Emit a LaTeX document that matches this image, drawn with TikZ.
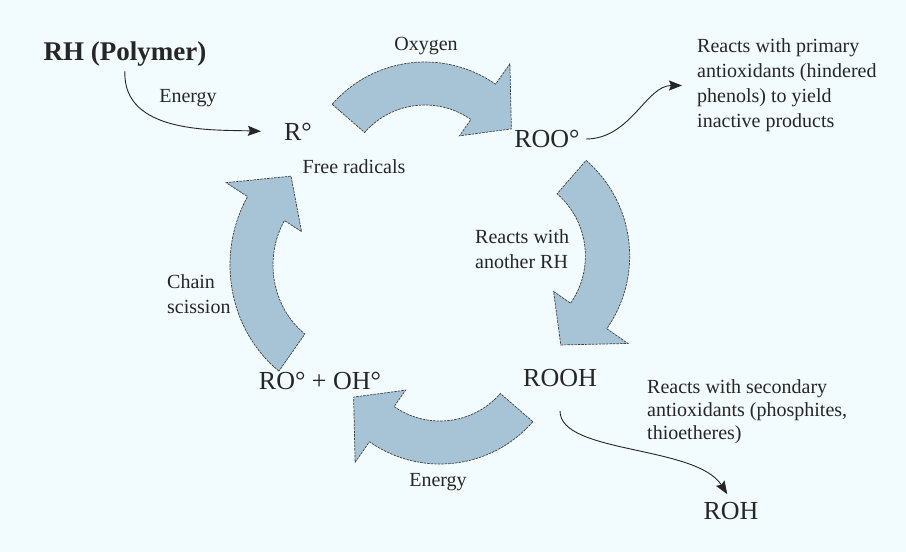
\documentclass[tikz,border=0pt]{standalone}
\usepackage{fontspec}
\setmainfont{Liberation Serif}
\usetikzlibrary{arrows.meta}
\definecolor{bgc}{RGB}{242,251,253}
\definecolor{arrfill}{RGB}{167,196,214}
\tikzset{
  bigarrow/.style={fill=arrfill, draw=black!75, line width=0.7pt, dash pattern=on 2.5pt off 1pt, line join=miter},
  lbl/.style={font=\fontsize{20}{25}\selectfont, inner sep=2pt, text=black!85},
  big/.style={font=\fontsize{26}{30}\selectfont, inner sep=2pt, text=black!85},
  conn/.style={draw=black!85, line width=0.9pt, -{Stealth[length=13pt,width=10pt,inset=2pt]}}
}
\newcommand\cycarrow[2]{%
  \begin{scope}[#1]
    \pgfmathsetmacro\cyA{#2}\pgfmathsetmacro\cyB{#2-84}\pgfmathsetmacro\cyC{#2-106}
    \draw[bigarrow] (\cyA:123) arc[start angle=\cyA, end angle=\cyB, radius=123]
      -- (\cyB:148) -- (\cyC:103) -- (\cyB:60) -- (\cyB:80)
      arc[start angle=\cyB, end angle=\cyA, radius=80] -- cycle;
  \end{scope}}
\begin{document}
\begin{tikzpicture}[x=1pt,y=1pt]
\fill[bgc] (0,0) rectangle (906,-552);
\useasboundingbox (0,0) rectangle (906,-552);

% big cycle arrows
\cycarrow{shift={(425,-185)}}{139}
\cycarrow{shift={(503,-256)}, scale=1.03}{49}
\cycarrow{shift={(440,-341)}}{-41}
\cycarrow{shift={(353,-265)}, yscale=1.08}{233}

% texts
\node[big, font=\fontsize{27}{30}\selectfont\bfseries] (rh) at (125,-54) {RH (Polymer)};
\node[lbl] (e1) at (188,-98) {Energy};
\node[big] (r) at (298,-132) {R°};
\node[lbl] (fr) at (354,-167) {Free radicals};
\node[lbl] (ox) at (426,-46) {Oxygen};
\node[big] (roo) at (547,-139) {ROO°};
\node[lbl, anchor=west, align=left] (t1) at (695,-85.5) {Reacts with primary\\antioxidants (hindered\\phenols) to yield\\inactive products};
\node[lbl, anchor=west, align=left] (rwa) at (473,-249) {Reacts with\\another RH};
\node[big] (rooh) at (560,-378) {ROOH};
\node[big] (roh) at (731,-511) {ROH};
\node[lbl, font=\fontsize{20}{23}\selectfont, anchor=west, align=left] (t2) at (645,-412) {Reacts with secondary\\antioxidants (phosphites,\\thioetheres)};
\node[big] (ro) at (320,-381) {RO° + OH°};
\node[lbl] (e2) at (438,-482) {Energy};
\node[lbl, anchor=west, align=left] (cs) at (165,-294) {Chain\\scission};

% connectors
\draw[conn, shorten <=3pt, shorten >=21pt] (rh.south) to[out=-92, in=178] (r.west);
\draw[conn, shorten <=4pt, shorten >=13pt] (roo.east) to[out=0, in=180] (t1.west);
\draw[conn, shorten <=22pt, shorten >=7pt] (rooh.south) .. controls +(0,-65) and +(-35,55) .. (roh.north);
\end{tikzpicture}
\end{document}
